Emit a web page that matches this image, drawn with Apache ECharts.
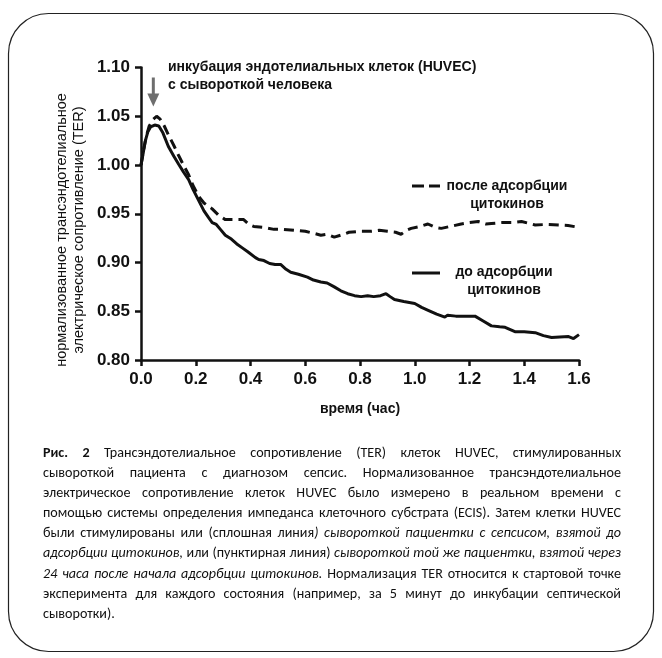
<!DOCTYPE html>
<html>
<head>
<meta charset="utf-8">
<script src="https://cdn.jsdelivr.net/npm/echarts@6/dist/echarts.min.js"></script>
<style>
html,body{margin:0;padding:0;background:#fff;}
#wrap{position:relative;width:662px;height:658px;}
#chart{position:absolute;left:0;top:0;width:662px;height:658px;}
#caption{position:absolute;left:43px;top:443px;width:578px;font-family:Carlito,Calibri,"Liberation Sans",Arial,sans-serif;font-size:14.1px;line-height:20.1px;color:#111;}
#caption div{text-align:justify;text-align-last:justify;white-space:nowrap;}
#caption div.last{text-align-last:left;}
</style>
</head>
<body>
<div id="wrap">
<div id="chart"></div>
<div id="caption">
<div><b>Рис. 2</b> Трансэндотелиальное сопротивление (TER) клеток HUVEC, стимулированных</div>
<div>сывороткой пациента с диагнозом сепсис. Нормализованное трансэндотелиальное</div>
<div>электрическое сопротивление клеток HUVEC было измерено в реальном времени с</div>
<div>помощью системы определения импеданса клеточного субстрата (ECIS). Затем клетки HUVEC</div>
<div>были стимулированы или (сплошная линия<i>) сывороткой пациентки с сепсисом, взятой до</i></div>
<div><i>адсорбции цитокинов,</i> или (пунктирная линия) <i>сывороткой той же пациентки, взятой через</i></div>
<div><i>24 часа после начала адсорбции цитокинов.</i> Нормализация TER относится к стартовой точке</div>
<div>эксперимента для каждого состояния (например, за 5 минут до инкубации септической</div>
<div class="last">сыворотки).</div>
</div>
</div>
<script>
// ---- data ----
var solidTimes = [0.000,0.008,0.015,0.025,0.035,0.050,0.065,0.080,0.100,0.120,0.137,0.155,0.174,0.190,0.210,0.230,0.247,0.260,0.275,0.290,0.308,0.330,0.350,0.370,0.390,0.418,0.430,0.449,0.470,0.490,0.510,0.530,0.547,0.575,0.608,0.630,0.657,0.680,0.706,0.730,0.755,0.780,0.804,0.828,0.850,0.875,0.895,0.910,0.926,0.960,1.000,1.025,1.049,1.080,1.110,1.120,1.150,1.190,1.220,1.250,1.280,1.310,1.330,1.366,1.400,1.440,1.470,1.500,1.530,1.562,1.580,1.600];
var solidValues = [1.000,1.012,1.024,1.034,1.039,1.041,1.040,1.033,1.019,1.009,1.001,0.993,0.985,0.975,0.964,0.953,0.946,0.941,0.939,0.934,0.928,0.924,0.919,0.915,0.911,0.905,0.903,0.902,0.899,0.898,0.898,0.893,0.890,0.888,0.885,0.882,0.880,0.879,0.875,0.871,0.868,0.866,0.865,0.866,0.865,0.866,0.868,0.865,0.862,0.860,0.858,0.854,0.851,0.847,0.844,0.846,0.845,0.845,0.845,0.840,0.835,0.834,0.8335,0.829,0.829,0.828,0.825,0.823,0.8235,0.824,0.822,0.826];
var dashedTimes = [0.000,0.010,0.020,0.030,0.045,0.057,0.070,0.085,0.100,0.120,0.137,0.155,0.174,0.190,0.210,0.230,0.260,0.285,0.308,0.340,0.375,0.395,0.412,0.450,0.486,0.520,0.559,0.600,0.630,0.657,0.680,0.706,0.730,0.760,0.800,0.840,0.870,0.900,0.930,0.950,0.970,0.987,1.020,1.048,1.075,1.097,1.130,1.170,1.200,1.232,1.260,1.280,1.320,1.360,1.390,1.420,1.440,1.480,1.525,1.560,1.600];
var dashedValues = [1.000,1.016,1.030,1.040,1.047,1.050,1.047,1.040,1.031,1.020,1.010,1.000,0.990,0.979,0.968,0.961,0.955,0.948,0.944,0.944,0.944,0.939,0.937,0.936,0.934,0.934,0.933,0.932,0.930,0.928,0.929,0.926,0.928,0.931,0.932,0.932,0.933,0.932,0.931,0.929,0.933,0.935,0.937,0.9395,0.936,0.935,0.937,0.9395,0.941,0.942,0.9395,0.940,0.941,0.941,0.942,0.940,0.9385,0.939,0.9385,0.938,0.936];
var xTicks = {min:0, max:1.6, step:0.2};
var yTicks = {min:0.80, max:1.10, step:0.05};
var seriesNames = ['после адсорбции\nцитокинов','до адсорбции\nцитокинов'];
var xTitle = 'время (час)';
var yTitle = 'нормализованное трансэндотелиальное\nэлектрическое сопротивление (TER)';
var annotationText = 'инкубация эндотелиальных клеток (HUVEC)\nс сывороткой человека';
var annotationTime = 0.045;

function pairs(t, v){ return t.map(function(x,i){ return [x, v[i]]; }); }

var chart = echarts.init(document.getElementById('chart'), null, {renderer:'canvas'});
var axisFont = {fontFamily:'"Liberation Sans",Arial,sans-serif', fontWeight:'bold', fontSize:17, color:'#111'};
var option = {
  animation:false,
  backgroundColor:'#fff',
  grid:{left:141, right:83, top:67.5, bottom:298, containLabel:false},
  xAxis:{type:'value', min:xTicks.min, max:xTicks.max, interval:xTicks.step,
    axisLine:{onZero:false, lineStyle:{color:'#111', width:2.5}},
    axisTick:{length:6, lineStyle:{color:'#111', width:2.5}},
    axisLabel:Object.assign({margin:11, formatter:function(v){return v.toFixed(1);}}, axisFont),
    splitLine:{show:false},
    name:xTitle, nameLocation:'middle', nameGap:42,
    nameTextStyle:{fontFamily:'"Liberation Sans",Arial,sans-serif', fontWeight:'bold', fontSize:14, color:'#111'}
  },
  yAxis:{type:'value', min:yTicks.min, max:yTicks.max, interval:yTicks.step,
    axisLine:{show:true, lineStyle:{color:'#111', width:2.5}},
    axisTick:{show:true, length:6, lineStyle:{color:'#111', width:2.5}},
    axisLabel:Object.assign({margin:11, formatter:function(v){return v.toFixed(2);}}, axisFont),
    splitLine:{show:false}
  },
  series:[
    {name:seriesNames[0], type:'line', data:pairs(dashedTimes, dashedValues), showSymbol:false, symbol:'none',
     lineStyle:{color:'#111', width:3, type:[10,6]}},
    {name:seriesNames[1], type:'line', data:pairs(solidTimes, solidValues), showSymbol:false, symbol:'none',
     lineStyle:{color:'#111', width:3}}
  ]
};
chart.setOption(option);

var ax = chart.convertToPixel({gridIndex:0}, [annotationTime, 1.10]);
var textStyleBase = {fontFamily:'"Liberation Sans",Arial,sans-serif', fill:'#111'};
chart.setOption({graphic:[
  {type:'rect', shape:{x:8.5, y:13.5, width:645, height:638, r:40}, style:{fill:'none', stroke:'#222', lineWidth:1.2}, silent:true},
  // y-axis title
  {type:'text', x:70, y:230, rotation:Math.PI/2,
   style:Object.assign({text:yTitle, fontSize:14.5, lineHeight:17, align:'center', verticalAlign:'middle'}, textStyleBase)},
  // annotation
  {type:'text', x:168, y:58,
   style:Object.assign({text:annotationText, fontSize:14, fontWeight:'bold', lineHeight:18, align:'left', verticalAlign:'top'}, textStyleBase)},
  {type:'line', shape:{x1:ax[0], y1:ax[1]+10, x2:ax[0], y2:ax[1]+30}, style:{stroke:'#6e6e6e', lineWidth:3}},
  {type:'polygon', shape:{points:[[ax[0]-6, ax[1]+26],[ax[0]+6, ax[1]+26],[ax[0], ax[1]+39]]}, style:{fill:'#6e6e6e'}},
  // legend
  {type:'line', shape:{x1:412, y1:186, x2:424, y2:186}, style:{stroke:'#111', lineWidth:3}},
  {type:'line', shape:{x1:429, y1:186, x2:440, y2:186}, style:{stroke:'#111', lineWidth:3}},
  {type:'text', x:507, y:195,
   style:Object.assign({text:seriesNames[0], fontSize:14, fontWeight:'bold', lineHeight:18, align:'center', verticalAlign:'middle'}, textStyleBase)},
  {type:'line', shape:{x1:412, y1:273, x2:440, y2:273}, style:{stroke:'#111', lineWidth:3}},
  {type:'text', x:504, y:281,
   style:Object.assign({text:seriesNames[1], fontSize:14, fontWeight:'bold', lineHeight:18, align:'center', verticalAlign:'middle'}, textStyleBase)}
]});
</script>
</body>
</html>
